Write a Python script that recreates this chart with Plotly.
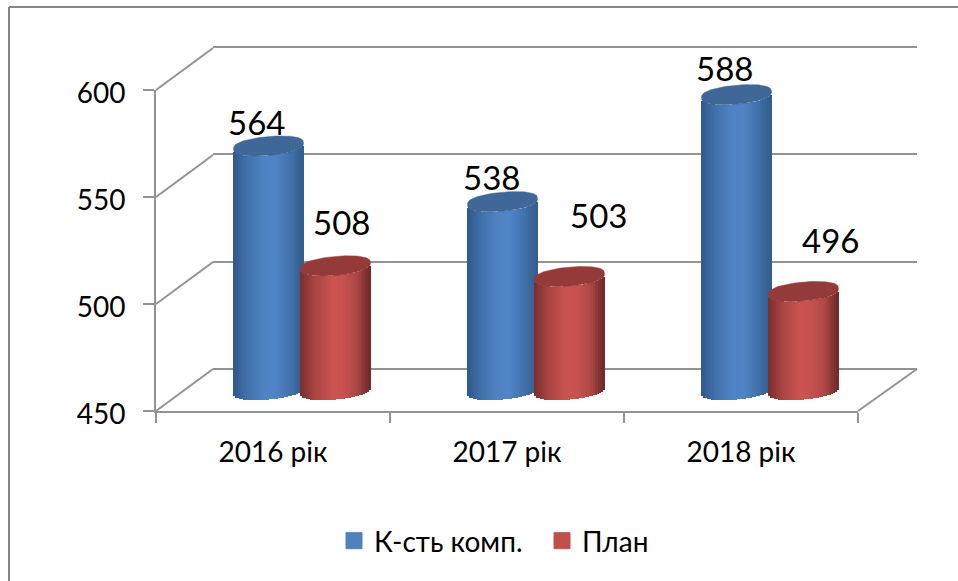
import numpy as np
import plotly.graph_objects as go

categories = ["2016 рік", "2017 рік", "2018 рік"]
series_names = ["К-сть комп.", "План"]
komp_values = [564, 538, 588]
plan_values = [508, 503, 496]
y_ticks = [450, 500, 550, 600]
label_shift_komp = [(-12, 24), (-11, 25), (-12, 27)]
label_shift_plan = [(6, 44), (29, 62), (27, 52)]

W, H = 958, 581
FONT = "Lato, 'Open Sans', sans-serif"
TXT = "#000000"
AXC = "#939393"
Y_PX = 321 / 150.0  # pixels per value unit
X_PX = 234.0        # pixels per category


def hx(px):
    return px / W


def vy(px):
    return 1 - px / H


def mix(stops, u):
    us = [s[0] for s in stops]
    rgb = [np.interp(u, us, [s[1][i] for s in stops]) for i in range(3)]
    return "rgb(%d,%d,%d)" % tuple(int(round(c)) for c in rgb)


blue_stops = [(-1, (46, 88, 140)), (-0.6, (66, 113, 170)), (-0.15, (79, 130, 195)),
              (0.2, (80, 132, 198)), (0.6, (66, 114, 172)), (1, (50, 92, 140))]
red_stops = [(-1, (120, 46, 45)), (-0.6, (168, 69, 66)), (-0.1, (201, 83, 80)),
             (0.2, (200, 82, 79)), (0.6, (172, 72, 70)), (1, (110, 42, 41))]
top_colors = ["#3f6898", "#943b39"]
flat_colors = ["#4f81bd", "#c0504d"]

fig = go.Figure()

# empty trace so the back-wall subplot (grid only) is drawn first, under everything
fig.add_trace(go.Scatter(x=[None], y=[None], xaxis="x", yaxis="y", showlegend=False, hoverinfo="skip"))

half_w = 35 / X_PX
centre_off = [-33.5 / X_PX, 33.5 / X_PX]
ell_b = 9.5 / Y_PX
tilt = 3 / Y_PX
ROUND = 0.75  # makes the cap outline blunter at the ends
N = 36
edges = np.linspace(-1, 1, N + 1)
mids = (edges[:-1] + edges[1:]) / 2
base_val = 450

for s, (vals, stops) in enumerate(zip((komp_values, plan_values), (blue_stops, red_stops))):
    vals = np.array(vals, dtype=float)
    xc = np.arange(3) + 0.5 + centre_off[s]
    for u in mids:
        low = tilt * u - ell_b * (1 - u * u) ** (0.5 * ROUND)
        fig.add_trace(go.Bar(
            x=xc + u * half_w, base=base_val + low, y=vals - base_val,
            width=half_w * 2 / N * 1.25,
            marker=dict(color=mix(stops, u), line=dict(width=0)),
            xaxis="x2", yaxis="y2", showlegend=False, hoverinfo="skip"))
    th = np.linspace(0, 2 * np.pi, 97)
    for xi, v in zip(xc, vals):
        fig.add_trace(go.Scatter(
            x=xi + half_w * np.cos(th),
            y=v + tilt * np.cos(th) + ell_b * np.sign(np.sin(th)) * np.abs(np.sin(th)) ** ROUND,
            mode="lines", fill="toself", fillcolor=top_colors[s],
            line=dict(width=0.5, color=top_colors[s]),
            xaxis="x2", yaxis="y2", showlegend=False, hoverinfo="skip"))

for name, col in zip(series_names, flat_colors):
    fig.add_trace(go.Scatter(
        x=[None], y=[None], mode="markers", name=name,
        marker=dict(symbol="square", size=16, color=col, line=dict(width=1, color=col)),
        xaxis="x3", yaxis="y3"))

annotations = []
for s, (vals, shifts) in enumerate(zip((komp_values, plan_values), (label_shift_komp, label_shift_plan))):
    for i, (v, sh) in enumerate(zip(vals, shifts)):
        annotations.append(dict(
            x=i + 0.5 + centre_off[s], y=v, xref="x2", yref="y2", text=str(v),
            showarrow=False, xshift=sh[0], yshift=sh[1],
            font=dict(family=FONT, size=33, color=TXT)))

# perspective edges and outer frame
shapes = []
for i, _ in enumerate(y_ticks):
    yf = 411 - i * 107
    shapes.append(dict(type="line", xref="paper", yref="paper", layer="below",
                       x0=hx(156), y0=vy(yf), x1=hx(213), y1=vy(yf - 42),
                       line=dict(color=AXC, width=2)))
shapes.append(dict(type="line", xref="paper", yref="paper", layer="below",
                   x0=hx(858), y0=vy(411), x1=hx(917), y1=vy(369),
                   line=dict(color=AXC, width=2)))
shapes.append(dict(type="line", xref="paper", yref="paper",
                   x0=hx(9), y0=vy(7), x1=1, y1=vy(7), line=dict(color="#868686", width=2)))
shapes.append(dict(type="line", xref="paper", yref="paper",
                   x0=hx(9), y0=vy(7), x1=hx(9), y1=0, line=dict(color="#868686", width=2)))

fig.update_layout(
    width=W, height=H, autosize=False,
    margin=dict(l=0, r=0, t=0, b=0, autoexpand=False),
    paper_bgcolor="#ffffff", plot_bgcolor="rgba(0,0,0,0)",
    barmode="overlay", bargap=0,
    annotations=annotations, shapes=shapes,
    font=dict(family=FONT, color=TXT),
    legend=dict(orientation="h", x=hx(334), y=vy(541), xanchor="left", yanchor="middle",
                font=dict(family=FONT, size=28, color=TXT), itemsizing="trace",
                bgcolor="rgba(0,0,0,0)", entrywidth=163, entrywidthmode="pixels",
                traceorder="normal"),
    # back wall: grid only (range padded so the 450 and 600 lines are kept)
    xaxis=dict(domain=[hx(213), hx(917)], range=[0, 3], visible=False, anchor="y"),
    yaxis=dict(domain=[vy(369 + 5 * Y_PX), vy(47 - 5 * Y_PX)], range=[445, 605],
               tickmode="array", tickvals=y_ticks,
               showgrid=True, gridcolor=AXC, gridwidth=2, zeroline=False, showline=False,
               showticklabels=False, ticks="", anchor="x"),
    # middle depth: cylinders
    xaxis2=dict(domain=[hx(185), hx(887)], range=[0, 3], visible=False, anchor="y2"),
    yaxis2=dict(domain=[vy(390 + 10 * Y_PX), vy(390 - 150 * Y_PX)], range=[440, 600],
                visible=False, anchor="x2"),
    # front: axes, ticks and labels
    xaxis3=dict(domain=[hx(156), hx(858)], range=[0, 3], anchor="y3",
                tickmode="array", tickvals=[0.5, 1.5, 2.5], ticktext=categories,
                ticks="outside", ticklen=0, showgrid=False, zeroline=False,
                showline=True, linecolor=AXC, linewidth=2, ticklabelstandoff=15,
                tickfont=dict(family=FONT, size=28, color=TXT),
                minor=dict(tickmode="array", tickvals=[0, 1, 2, 3], ticks="outside",
                           ticklen=10, tickwidth=2, tickcolor=AXC, showgrid=False)),
    yaxis3=dict(domain=[vy(411), vy(90)], range=[450, 600], anchor="x3",
                tickmode="array", tickvals=y_ticks, ticks="outside", ticklen=11,
                tickwidth=2, tickcolor=AXC, showgrid=False, zeroline=False,
                showline=True, linecolor=AXC, linewidth=2, ticklabelstandoff=12,
                ticklabelshift=3,
                tickfont=dict(family=FONT, size=28, color=TXT)),
)

fig.write_html("out.html", config=dict(displayModeBar=False),
               post_script="document.body.style.margin='0';document.body.style.overflow='hidden';")
